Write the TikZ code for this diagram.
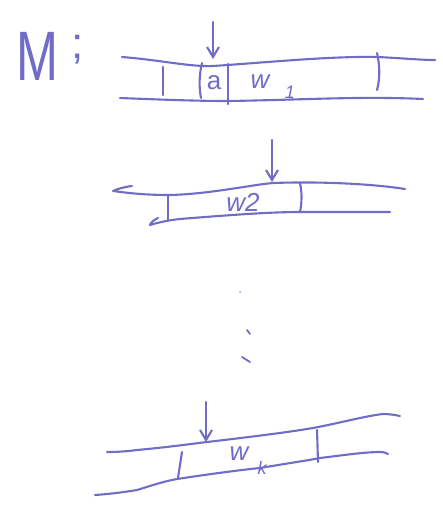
\documentclass[tikz,border=0pt]{standalone}
\usepackage{fontspec}
\setmainfont{Liberation Sans}
\usetikzlibrary{arrows.meta}
\definecolor{ink}{RGB}{112,108,200}
\tikzset{
  pen/.style={draw=ink, line width=2.1pt, line cap=round, line join=round},
  tick/.style={pen},
  lbl/.style={text=ink, inner sep=0pt, font=\fontsize{26}{26}\selectfont\itshape},
  sub/.style={text=ink, inner sep=0pt, font=\fontsize{18}{18}\selectfont\itshape},
  downarrow/.style={pen, -{Straight Barb[length=10pt,width=12pt,line width=2.1pt]}}
}
\begin{document}
\begin{tikzpicture}[x=1pt,y=-1pt]
\useasboundingbox (0,0) rectangle (442,508);
% title
\node[text=ink, inner sep=0pt, font=\fontsize{70}{70}\selectfont, xscale=0.72] (M) at (37,56) {M};
\node[text=ink, inner sep=0pt, font=\fontsize{44}{44}\selectfont] (semi) at (78,50) {;};

% ---------- tape 1 ----------
\draw[pen] (122,57) .. controls (160,60) and (190,67) .. (213,66)
           .. controls (260,63) and (330,56) .. (377,57)
           .. controls (400,58) and (420,60) .. (435,60);
\draw[pen] (120,98) .. controls (170,100) and (200,101) .. (228,101)
           .. controls (300,100) and (360,96) .. (423,99);
\draw[tick] (163,67) -- (163,95);
\draw[tick] (202,63) .. controls (199,75) and (199,88) .. (201,98);
\draw[tick] (228,64) -- (228,104);
\draw[tick] (377,53) .. controls (380,65) and (380,80) .. (377,90);
\node[lbl, font=\fontsize{26}{26}\selectfont] (a) at (214,83) {a};
\node[lbl] (w1) at (260,82) {w};
\node[sub] (w1s) at (290,92) {1};
\coordinate (a1s) at (213,22);
\coordinate (a1e) at (213,59);
\draw[downarrow] (a1s) -- (a1e);

% ---------- tape 2 ----------
\draw[pen] (132,186) .. controls (124,187) and (117,189) .. (113,191)
           .. controls (135,194) and (150,195) .. (170,195)
           .. controls (210,194) and (250,185) .. (273,183)
           .. controls (330,181) and (380,185) .. (405,189);
\draw[pen] (158,218) .. controls (154,220) and (151,222) .. (150,225)
           .. controls (160,222) and (170,220) .. (180,219)
           .. controls (230,215) and (270,212) .. (300,212)
           .. controls (340,212) and (370,212) .. (390,212);
\draw[tick] (168,195) -- (168,220);
\draw[tick] (300,183) .. controls (302,192) and (302,202) .. (300,212);
\node[lbl] (w2) at (243,202) {w2};
\coordinate (a2s) at (272,140);
\coordinate (a2e) at (272,182);
\draw[downarrow] (a2s) -- (a2e);

% ---------- dots ----------
\fill[ink!70] (240,292) circle (1pt);
\draw[pen, line width=1.8pt] (247,330) -- (250,334);
\draw[pen, line width=1.8pt] (242,357) -- (250,362);

% ---------- tape k ----------
\draw[pen] (107,452) .. controls (120,452) and (130,451) .. (137,450)
           .. controls (170,447) and (190,444) .. (207,442)
           .. controls (250,437) and (290,432) .. (313,428)
           .. controls (340,423) and (365,416) .. (383,414)
           .. controls (390,414) and (395,415) .. (400,416);
\draw[pen] (95,495) .. controls (110,494) and (125,492) .. (137,490)
           .. controls (150,486) and (165,481) .. (177,479)
           .. controls (210,474) and (240,470) .. (260,468)
           .. controls (290,463) and (310,460) .. (320,458)
           .. controls (345,455) and (365,452) .. (380,452)
           .. controls (384,452) and (386,453) .. (388,454);
\draw[tick] (182,452) -- (178,478);
\draw[tick] (317,430) -- (318,462);
\node[lbl] (wk) at (239,454) {w};
\node[sub] (wks) at (262,468) {k};
\coordinate (a3s) at (206,402);
\coordinate (a3e) at (206,442);
\draw[downarrow] (a3s) -- (a3e);
\end{tikzpicture}
\end{document}
